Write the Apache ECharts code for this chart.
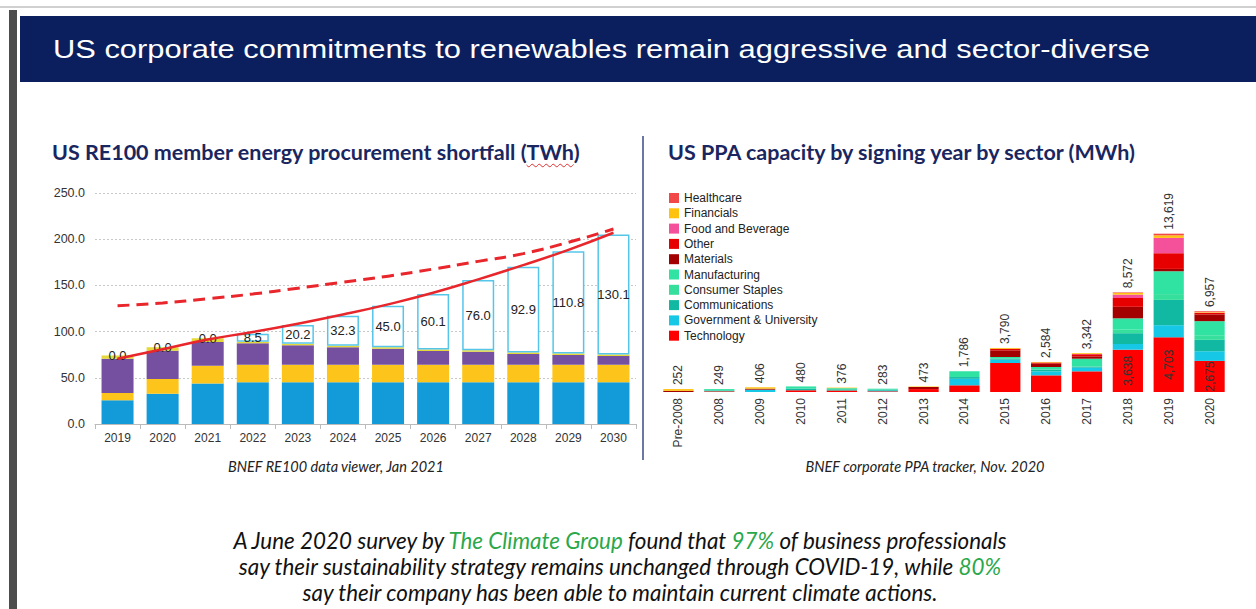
<!DOCTYPE html>
<html>
<head>
<meta charset="utf-8">
<script src="https://cdn.jsdelivr.net/npm/echarts@6/dist/echarts.min.js"></script>
<style>
  body { margin:0; background:#fff; }
  #page { position:relative; width:1256px; height:609px; overflow:hidden; background:#fff; }
  .topline { position:absolute; left:0; top:6px; width:1256px; height:2px; background:#d0d0d0; }
  .sidebar { position:absolute; left:9px; top:10px; width:8px; height:600px; background:#4d4d4d; }
  .header { position:absolute; left:20px; top:16px; width:1236px; height:66px; background:#0b1f5e; }
  .header span { position:absolute; left:33px; top:0; line-height:66px; color:#fff;
    font-family:"Liberation Sans", Arial, sans-serif; font-size:25px; white-space:nowrap; transform-origin:0 50%; }
  .ctitle { position:absolute; top:139px; font-family:Lato, "Open Sans", sans-serif; font-weight:bold;
    font-size:21.5px; color:#1a2660; white-space:nowrap; line-height:26px; }
  .wavy { text-decoration: underline wavy #e03030; text-decoration-thickness:1px; text-underline-offset:3px; }
  .divider { position:absolute; left:642px; top:136px; width:2px; height:324px; background:#6b78a3; }
  .caption { position:absolute; top:458px; font-family:Lato, "Open Sans", sans-serif; font-style:italic;
    font-size:14.5px; color:#222; white-space:nowrap; transform:translateX(-50%); }
  .para { position:absolute; left:0; top:528px; width:1240px; text-align:center; font-family:Lato, "Open Sans", sans-serif;
    font-style:italic; font-size:22.4px; line-height:26px; color:#111; }
  .para b { font-weight:normal; color:#2aa84a; }
  #chart { position:absolute; left:0; top:0; width:1256px; height:609px; }
</style>
</head>
<body>
<div id="page">
  <div class="topline"></div>
  <div class="sidebar"></div>
  <div class="header"><span id="htext">US corporate commitments to renewables remain aggressive and sector-diverse</span></div>
  <div id="chart"></div>
  <div class="ctitle" style="left:52px">US RE100 member energy procurement shortfall (<span class="wavy">TWh</span>)</div>
  <div class="ctitle" style="left:668px">US PPA capacity by signing year by sector (MWh)</div>
  <div class="divider"></div>
  <div class="caption" style="left:336px">BNEF RE100 data viewer, Jan 2021</div>
  <div class="caption" style="left:925px">BNEF corporate PPA tracker, Nov. 2020</div>
  <div class="para">A June 2020 survey by <b>The Climate Group</b> found that <b>97%</b> of business professionals<br>
    say their sustainability strategy remains unchanged through COVID-19, while <b>80%</b><br>
    say their company has been able to maintain current climate actions.</div>
</div>
<script>
// stretch the header line to the slide width
var ht = document.getElementById('htext')
ht.style.transform = 'scaleX(' + (1097 / ht.getBoundingClientRect().width) + ')'

// ---- left chart: RE100 shortfall (TWh) ----
const reYears = ['2019','2020','2021','2022','2023','2024','2025','2026','2027','2028','2029','2030']
const reBlue = [25.6, 32.8, 43.7, 45.1, 45.1, 45.1, 45.1, 45.1, 45.1, 45.1, 45.1, 45.1]
const reYellow = [7.9, 15.9, 19.4, 19.1, 19.1, 19.1, 19.1, 19.1, 19.1, 19.1, 19.1, 19.1]
const rePurple = [37.2, 30.7, 25.6, 23.1, 20.9, 18.8, 17.3, 14.8, 14.1, 11.6, 10.5, 9.4]
const reThin = [3.3, 3.6, 4.0, 1.8, 1.8, 1.8, 1.6, 1.6, 1.5, 1.5, 1.5, 1.5]
const reShortfall = [0.0, 0.0, 0.0, 8.5, 20.2, 32.3, 45.0, 60.1, 76.0, 92.9, 110.8, 130.1]
const reSolidLine = [70.7, 81, 91.5, 99.5, 108.5, 118.5, 129.5, 142, 156.5, 172, 188.5, 207]
const reDashLine = [128, 131, 135.6, 140.7, 147, 153.5, 160, 167.7, 176, 184.4, 196.6, 211]

// ---- right chart: PPA capacity by sector (MWh) ----
const ppaYears = ['Pre-2008','2008','2009','2010','2011','2012','2013','2014','2015','2016','2017','2018','2019','2020']
const ppaTotals = [252, 249, 406, 480, 376, 283, 473, 1786, 3790, 2584, 3342, 8572, 13619, 6957]
const technology = [0, 60, 0, 150, 130, 60, 250, 575, 2495, 1433, 1778, 3638, 4703, 2675]
const government = [0, 0, 200, 0, 0, 50, 0, 560, 285, 344, 315, 490, 1045, 830]
const communications = [0, 80, 0, 150, 100, 100, 0, 150, 100, 150, 100, 930, 2175, 980]
const consumerStaples = [0, 0, 0, 0, 0, 0, 0, 0, 0, 0, 0, 300, 500, 400]
const manufacturing = [0, 109, 0, 180, 100, 73, 0, 501, 130, 223, 673, 980, 1965, 1210]
const materials = [100, 0, 86, 0, 0, 0, 180, 0, 574, 287, 200, 990, 200, 580]
const other = [0, 0, 0, 0, 0, 0, 0, 0, 140, 100, 180, 760, 1350, 120]
const foodBeverage = [0, 0, 0, 0, 0, 0, 0, 0, 0, 0, 30, 290, 1320, 40]
const financials = [152, 0, 120, 0, 46, 0, 43, 0, 66, 47, 66, 150, 220, 60]
const healthcare = [0, 0, 0, 0, 0, 0, 0, 0, 0, 0, 0, 44, 141, 62]
const techLabelYears = ['2018', '2019', '2020']

const sectors = [
  ['Technology', technology, '#ff0000'],
  ['Government & University', government, '#16c8e6'],
  ['Communications', communications, '#12b9a2'],
  ['Consumer Staples', consumerStaples, '#36e09c'],
  ['Manufacturing', manufacturing, '#30e3a3'],
  ['Materials', materials, '#a30000'],
  ['Other', other, '#e60000'],
  ['Food and Beverage', foodBeverage, '#f5509a'],
  ['Financials', financials, '#ffc20e'],
  ['Healthcare', healthcare, '#f24848']
]

const fmt = v => Number(v).toLocaleString('en-US')

let series = [
  { name:'blue', type:'bar', stack:'re', xAxisIndex:0, yAxisIndex:0, barCategoryGap:'29%',
    itemStyle:{ color:'#139bd9' }, data: reBlue },
  { name:'yellow', type:'bar', stack:'re', xAxisIndex:0, yAxisIndex:0, itemStyle:{ color:'#fdc51c' }, data: reYellow },
  { name:'purple', type:'bar', stack:'re', xAxisIndex:0, yAxisIndex:0, itemStyle:{ color:'#7650a0' }, data: rePurple },
  { name:'thin', type:'bar', stack:'re', xAxisIndex:0, yAxisIndex:0, itemStyle:{ color:'#e4d83a' }, data: reThin },
  { name:'shortfall', type:'bar', stack:'re', xAxisIndex:0, yAxisIndex:0,
    itemStyle:{ color:'#ffffff', borderColor:'#55c6ea', borderWidth:1.5 },
    label:{ show:true, position:'inside', color:'#222', fontSize:13, fontFamily:'Liberation Sans, Arial',
      formatter: p => p.value.toFixed(1) },
    data: reShortfall.map(v => v > 0 ? v : { value:v, itemStyle:{ borderWidth:0 } }) },
  { name:'solid', type:'line', xAxisIndex:0, yAxisIndex:0, smooth:true, symbol:'none', z:5,
    lineStyle:{ color:'#e8262b', width:2.5 }, data: reSolidLine },
  { name:'dashed', type:'line', xAxisIndex:0, yAxisIndex:0, smooth:true, symbol:'none', z:5,
    lineStyle:{ color:'#e8262b', width:3, type:[12,7] }, data: reDashLine }
]

sectors.forEach(function (s) {
  let data = s[1]
  if (s[0] === 'Technology') {
    data = s[1].map((v, i) => techLabelYears.includes(ppaYears[i]) ? { value:v, label:{ show:true } } : v)
  }
  series.push({
    name:s[0], type:'bar', stack:'ppa', xAxisIndex:1, yAxisIndex:1, barCategoryGap:'26%',
    itemStyle:{ color:s[2] },
    label:{ show:false, position:'inside', rotate:90, color:'#333', fontSize:12,
      fontFamily:'Liberation Sans, Arial', formatter: p => fmt(p.value) },
    data:data
  })
})
// totals written above each stack
series.push({
  name:'total', type:'bar', xAxisIndex:1, yAxisIndex:1, barGap:'-100%', z:1,
  itemStyle:{ color:'rgba(0,0,0,0)' },
  label:{ show:true, position:'top', rotate:90, align:'left', verticalAlign:'middle', distance:4,
    color:'#333', fontSize:12, fontFamily:'Liberation Sans, Arial', formatter: p => fmt(p.value) },
  data: ppaTotals
})

const option = {
  animation:false,
  legend:{
    data: sectors.map(s => s[0]).reverse(),
    orient:'vertical', left:669, top:192, padding:0, icon:'rect',
    itemWidth:10, itemHeight:10, itemGap:3.3,
    textStyle:{ color:'#222', fontSize:12, fontFamily:'Liberation Sans, Arial' },
    selectedMode:false
  },
  grid:[
    { left:95, right:620, top:193, bottom:185 },
    { left:658, right:26, top:206, bottom:217 }
  ],
  xAxis:[
    { type:'category', gridIndex:0, data: reYears,
      axisLine:{ lineStyle:{ color:'#bbb' } },
      axisTick:{ show:true, lineStyle:{ color:'#bbb' } },
      axisLabel:{ color:'#333', fontSize:12, margin:8, fontFamily:'Liberation Sans, Arial' } },
    { type:'category', gridIndex:1, data: ppaYears,
      axisLine:{ show:false }, axisTick:{ show:false },
      axisLabel:{ color:'#333', fontSize:12, rotate:90, margin:6, interval:0, fontFamily:'Liberation Sans, Arial' } }
  ],
  yAxis:[
    { type:'value', gridIndex:0, min:0, max:250, interval:50,
      axisLine:{ show:false }, axisTick:{ show:false },
      axisLabel:{ color:'#333', fontSize:12.5, margin:10, fontFamily:'Liberation Sans, Arial',
        formatter: v => v.toFixed(1) },
      splitLine:{ lineStyle:{ color:'#c8c8c8', type:[2,2] } } },
    { type:'value', gridIndex:1, min:0, max:16000, show:false, splitLine:{ show:false } }
  ],
  series:series
}

const myChart = echarts.init(document.getElementById('chart'), null, { renderer:'svg' })
myChart.setOption(option)
</script>
</body>
</html>
